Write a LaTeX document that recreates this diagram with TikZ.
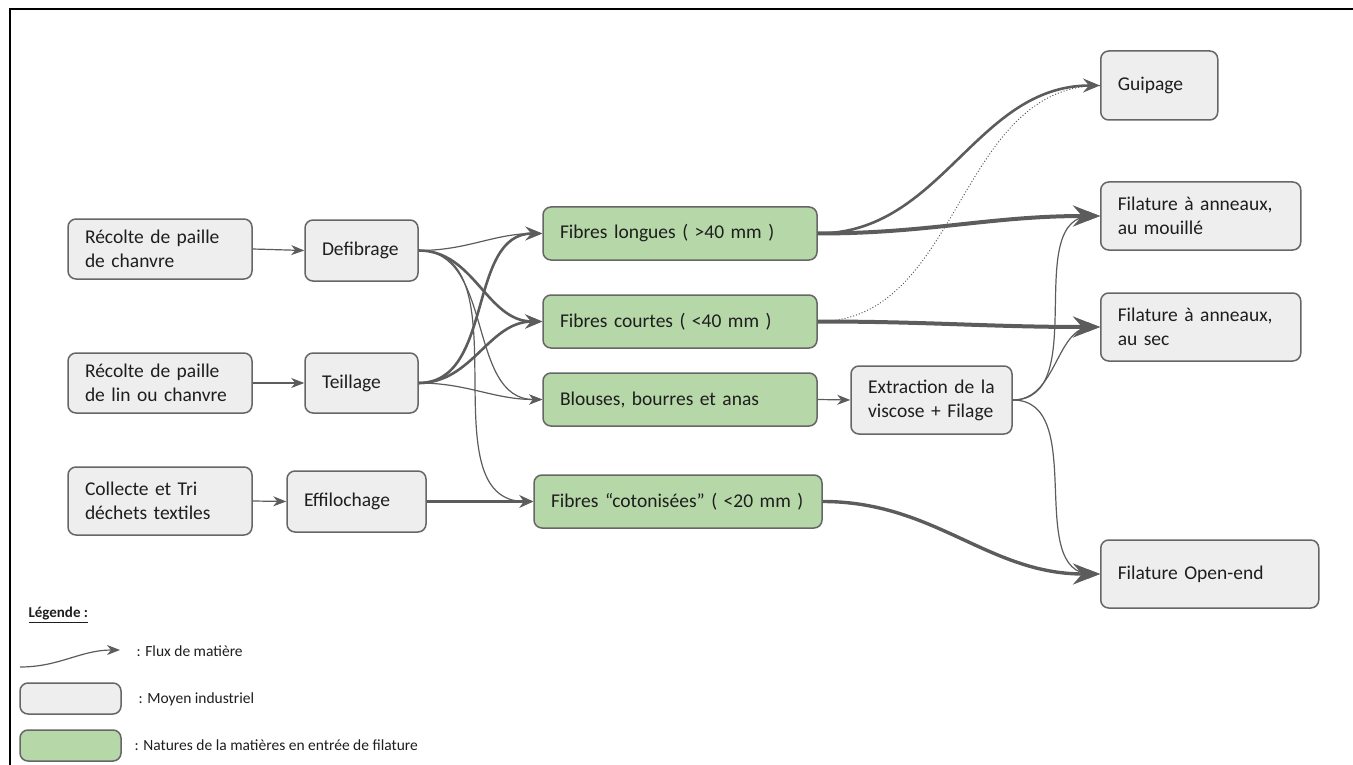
\documentclass[tikz,border=0pt]{standalone}
\usepackage{fontspec}
\setmainfont{Carlito}
\usetikzlibrary{arrows.meta}
\definecolor{grisfond}{HTML}{EEEEEE}
\definecolor{vertfond}{HTML}{B6D7A8}
\definecolor{bord}{HTML}{666666}
\definecolor{fleche}{HTML}{5C5C5C}
\definecolor{texte}{HTML}{1E1E1E}
\begin{document}
\begin{tikzpicture}[x=1pt,y=-1pt,
	machine/.style={draw=bord,fill=grisfond,line width=1.5pt,rounded corners=8pt,inner xsep=17pt,inner ysep=0pt,align=left,text=texte,font=\fontsize{19.5}{24}\selectfont},
	matiere/.style={machine,fill=vertfond},
	fluxfin/.style={draw=fleche,line width=1.2pt,-{Stealth[length=13pt,width=10pt,inset=4pt]}},
	fluxmoy/.style={draw=fleche,line width=2.6pt,-{Stealth[length=17pt,width=14pt,inset=6pt]}},
	fluxgros/.style={draw=fleche,line width=4pt,-{Stealth[length=27pt,width=21pt,inset=9pt]}},
	legende/.style={anchor=west,text=texte,font=\fontsize{15.5}{18}\selectfont}]
	\useasboundingbox (0,0) rectangle (1353,765);
	\draw[line width=2.5pt] (1353,9)--(10,9)--(10,765);
	\def\xa{160} \def\xd{1100}
	\node[machine,text width=150pt,minimum height=60pt] (recChanvre) at (\xa,249) {Récolte de paille\\de chanvre};
	\node[machine,text width=79pt,minimum height=61pt] (defibrage) at (361.5,250.5) {Defibrage};
	\node[machine,text width=150pt,minimum height=60pt] (recLin) at (\xa,383) {Récolte de paille\\de lin ou chanvre};
	\node[machine,text width=79pt,minimum height=60pt] (teillage) at (361.5,383) {Teillage};
	\node[machine,text width=150pt,minimum height=68pt] (collecte) at (\xa,501) {Collecte et Tri\\déchets textiles};
	\node[machine,text width=105pt,minimum height=61pt] (effilochage) at (356.5,501.5) {Effilochage};
	\node[matiere,text width=240pt,minimum height=53pt] (longues) at (680,233.5) {Fibres longues ( >40 mm )};
	\node[matiere,text width=240pt,minimum height=53pt] (courtes) at (680,321.5) {Fibres courtes ( <40 mm )};
	\node[matiere,text width=240pt,minimum height=53pt] (blouses) at (680,399.5) {Blouses, bourres et anas};
	\node[matiere,text width=254pt,minimum height=53pt] (cotonisees) at (678,501.5) {Fibres “cotonisées” ( <20 mm )};
	\node[machine,text width=127pt,minimum height=68pt] (extraction) at (931.5,400) {Extraction de la\\viscose + Filage};
	\node[machine,text width=83pt,minimum height=69pt,anchor=west] (guipage) at (\xd,85.5) {Guipage};
	\node[machine,text width=166pt,minimum height=68pt,anchor=west] (mouille) at (\xd,216) {Filature à anneaux,\\au mouillé};
	\node[machine,text width=166pt,minimum height=68pt,anchor=west] (sec) at (\xd,327) {Filature à anneaux,\\au sec};
	\node[machine,text width=184pt,minimum height=68pt,anchor=west] (openEnd) at (\xd,574) {Filature Open-end};
	\draw[fluxfin] (recChanvre.east)--(defibrage.west);
	\draw[fluxfin] (recLin.east)--(teillage.west);
	\draw[fluxfin] (collecte.east)--(effilochage.west);
	\draw[fluxfin] (defibrage.east) to[out=0,in=180] (longues.west);
	\draw[fluxmoy] (defibrage.east) to[out=0,in=180] (courtes.west);
	\draw[fluxfin] (defibrage.east) to[out=0,in=180] (blouses.west);
	\draw[fluxfin] (defibrage.east) to[out=0,in=180] (cotonisees.west);
	\draw[fluxmoy] (teillage.east) to[out=0,in=180] (longues.west);
	\draw[fluxmoy] (teillage.east) to[out=0,in=180] (courtes.west);
	\draw[fluxfin] (teillage.east) to[out=0,in=180] (blouses.west);
	\draw[fluxmoy,line width=2.4pt,-{Stealth[length=14pt,width=13pt,inset=5pt]}] (effilochage.east)--(cotonisees.west);
	\draw[fleche,line width=1pt,dotted] (courtes.east) to[out=0,in=180] (guipage.west);
	\draw[fluxmoy] (longues.east) to[out=0,in=180] (guipage.west);
	\draw[fluxgros] (longues.east) to[out=0,in=180] (mouille.west);
	\draw[fluxgros] (courtes.east) to[out=0,in=180] (sec.west);
	\draw[fluxfin] (blouses.east)--(extraction.west);
	\draw[fluxfin] (extraction.east) to[out=0,in=180] (mouille.west);
	\draw[fluxfin] (extraction.east) to[out=0,in=180] (sec.west);
	\draw[fluxfin] (extraction.east) to[out=0,in=180] (openEnd.west);
	\draw[fluxgros,line width=3.4pt] (cotonisees.east) to[out=0,in=180] (openEnd.west);
	\node[legende,font=\fontsize{15}{18}\selectfont\bfseries] (titreLegende) at (25,615) {\underline{Légende :}};
	\coordinate (legDebut) at (20,667);
	\coordinate (legFin) at (120,650);
	\draw[fluxfin] (legDebut) to[out=0,in=180] (legFin);
	\node[legende] (legFlux) at (133,651) {: Flux de matière};
	\node[machine,text width=67pt,minimum height=31pt] (legMachine) at (70.5,698.5) {};
	\node[legende] (legMoyen) at (135,699) {: Moyen industriel};
	\node[matiere,text width=67pt,minimum height=31pt] (legMatiere) at (70.5,745.5) {};
	\node[legende] (legNature) at (131,745) {: Natures de la matières en entrée de filature};
\end{tikzpicture}
\end{document}
